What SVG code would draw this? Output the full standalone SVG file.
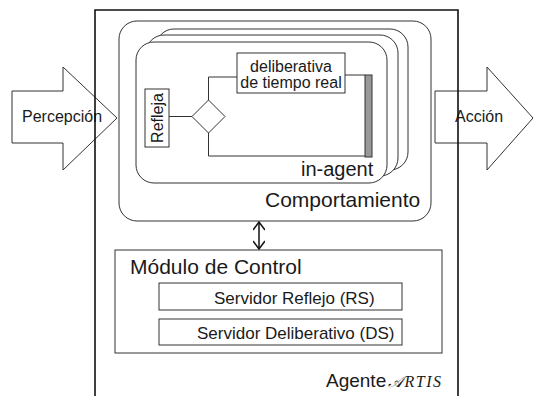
<svg xmlns="http://www.w3.org/2000/svg" width="534" height="396" viewBox="0 0 534 396">
<defs>
<style>
text{font-family:"Liberation Sans",Arial,sans-serif;fill:#1a1a1a}
.ln{fill:none;stroke:#333;stroke-width:1}
.bx{fill:#fff;stroke:#333;stroke-width:1}
.thick{fill:none;stroke:#111;stroke-width:1.6}
</style>
<marker id="v" viewBox="0 0 10 12" refX="9" refY="6" markerWidth="10" markerHeight="12" markerUnits="userSpaceOnUse" orient="auto-start-reverse">
<path d="M1,0 L9,6 L1,12" fill="none" stroke="#111" stroke-width="1.5"/>
</marker>
</defs>
<rect width="534" height="396" fill="#fff"/>

<g id="percepcion">
<path d="M12,91 H63 V67 L117,118 L63,170 V143 H12 Z" class="bx" stroke="#444"/>
<text x="22" y="122" font-size="16">Percepción</text>
</g>
<g id="accion">
<path d="M435,91 H487 V67 L533,118 L487,170 V143 H435 Z" class="bx" stroke="#444"/>
<text x="455" y="122" font-size="16">Acción</text>
</g>

<g id="agente">
<path d="M95,400 V10 H458 V400" class="thick"/>
<text x="326" y="387" font-size="19">Agente</text>
<text x="388" y="387" font-size="16" font-family="Liberation Serif, serif" font-style="italic" letter-spacing="1.5" style="font-family:'Liberation Serif',serif">𝒜RTIS</text>
</g>

<g id="comportamiento">
<rect x="119" y="21" width="312" height="200" rx="18" class="bx"/>
<text x="265" y="207" font-size="21">Comportamiento</text>
</g>

<g id="in-agent">
<rect x="156" y="29" width="252" height="141" rx="18" class="bx"/>
<rect x="146" y="35" width="252" height="141" rx="18" class="bx"/>
<rect x="136" y="42" width="251" height="141" rx="18" class="bx"/>
<text x="301" y="176" font-size="20">in-agent</text>
</g>

<g id="refleja">
<rect x="145" y="89" width="24" height="58" class="bx"/>
<text transform="translate(163,118) rotate(-90)" text-anchor="middle" font-size="16">Refleja</text>
</g>

<g id="decision">
<path d="M192,116.5 L208.5,100 L225,116.5 L208.5,133 Z" class="bx"/>
</g>

<g id="deliberativa">
<rect x="237" y="53" width="108" height="40" class="bx"/>
<text x="291" y="72" text-anchor="middle" font-size="16">deliberativa</text>
<text x="291" y="88" text-anchor="middle" font-size="16">de tiempo real</text>
</g>

<g id="barra">
<rect x="365" y="75" width="7" height="82" fill="#999" stroke="#333" stroke-width="1"/>
</g>

<g id="modulo">
<rect x="115" y="250" width="327" height="103" class="bx"/>
<text x="130" y="274" font-size="21">Módulo de Control</text>
</g>
<g id="rs">
<rect x="159" y="283" width="243" height="27" class="bx"/>
<text x="214" y="304" font-size="17">Servidor Reflejo (RS)</text>
</g>
<g id="ds">
<rect x="159" y="319" width="243" height="26" class="bx"/>
<text x="197" y="339" font-size="17">Servidor Deliberativo (DS)</text>
</g>

<g id="connectors">
<path d="M169,116.5 H192" class="ln"/>
<path d="M208.5,100 V77 H237" class="ln"/>
<path d="M345,75 H365" class="ln"/>
<path d="M208.5,133 V156 H365" class="ln"/>
<path d="M259,222 V249" fill="none" stroke="#111" stroke-width="1.5" marker-start="url(#v)" marker-end="url(#v)"/>
</g>
</svg>
